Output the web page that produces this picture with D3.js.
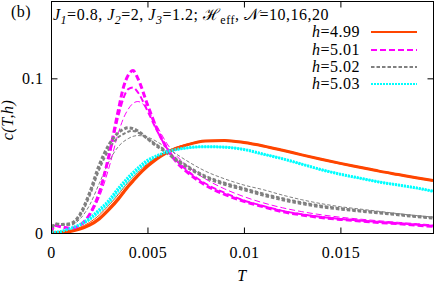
<!DOCTYPE html>
<html>
<head>
<meta charset="utf-8">
<script src="https://cdn.jsdelivr.net/npm/d3@7"></script>
<style>
  body { margin: 0; background: #fff; }
  text { font-family: "Liberation Serif", "Times New Roman", serif; letter-spacing: 0.5px; }
</style>
</head>
<body>
<svg width="436" height="284"></svg>
<script>
// temperature grid shared by all curves
var temps = [0, 0.0002, 0.0005, 0.001, 0.0015, 0.002, 0.0025, 0.003, 0.0035, 0.00375, 0.004, 0.00425, 0.0045, 0.005, 0.0055, 0.006, 0.0065, 0.007, 0.008, 0.009, 0.010, 0.011, 0.012, 0.013, 0.014, 0.015, 0.016, 0.017, 0.018, 0.019, 0.0198];

// h = 4.99
var c499_N20 = [0, 0.0001, 0.0003, 0.001, 0.0025, 0.005, 0.009, 0.015, 0.022, 0.026, 0.030, 0.0335, 0.037, 0.043, 0.048, 0.052, 0.0548, 0.0568, 0.0595, 0.0598, 0.0585, 0.0563, 0.0535, 0.0505, 0.0477, 0.045, 0.0425, 0.040, 0.0378, 0.0356, 0.034];
var c499_N16 = [0, 0.0001, 0.0004, 0.0012, 0.0028, 0.0055, 0.0097, 0.0158, 0.0228, 0.0268, 0.0307, 0.0342, 0.0376, 0.0435, 0.0484, 0.0523, 0.055, 0.0569, 0.0595, 0.0598, 0.0585, 0.0563, 0.0535, 0.0505, 0.0477, 0.045, 0.0425, 0.040, 0.0378, 0.0356, 0.034];
var c499_N10 = [0, 0.0002, 0.0006, 0.0016, 0.0036, 0.0068, 0.0115, 0.018, 0.025, 0.029, 0.0328, 0.036, 0.0392, 0.0447, 0.0492, 0.0528, 0.0553, 0.0571, 0.0594, 0.0596, 0.0583, 0.0561, 0.0534, 0.0505, 0.0477, 0.045, 0.0425, 0.040, 0.0378, 0.0356, 0.034];

// h = 5.01
var c501_N20 = [0, 0.005, 0.004, 0.003, 0.005, 0.012, 0.026, 0.050, 0.080, 0.094, 0.102, 0.105, 0.100, 0.083, 0.067, 0.055, 0.046, 0.040, 0.031, 0.025, 0.0205, 0.017, 0.0138, 0.0117, 0.010, 0.0088, 0.0078, 0.0068, 0.006, 0.005, 0.0043];
var c501_N16 = [0, 0.005, 0.0042, 0.003, 0.005, 0.012, 0.026, 0.049, 0.076, 0.087, 0.093, 0.094, 0.091, 0.079, 0.066, 0.055, 0.047, 0.041, 0.032, 0.026, 0.021, 0.0175, 0.0143, 0.0121, 0.0104, 0.0091, 0.0081, 0.0071, 0.0062, 0.0053, 0.0046];
var c501_N10 = [0, 0.005, 0.0045, 0.0035, 0.005, 0.011, 0.023, 0.042, 0.065, 0.074, 0.080, 0.0838, 0.085, 0.080, 0.069, 0.058, 0.050, 0.044, 0.035, 0.0285, 0.0235, 0.0195, 0.0163, 0.0138, 0.0118, 0.0102, 0.009, 0.0079, 0.0069, 0.006, 0.0052];

// h = 5.02
var c502_N20 = [0, 0.006, 0.0055, 0.006, 0.012, 0.026, 0.044, 0.057, 0.065, 0.067, 0.068, 0.0675, 0.066, 0.061, 0.056, 0.052, 0.047, 0.043, 0.036, 0.0315, 0.028, 0.0245, 0.0215, 0.019, 0.017, 0.0155, 0.0142, 0.013, 0.0118, 0.0105, 0.0097];
var c502_N16 = [0, 0.006, 0.0055, 0.0055, 0.011, 0.024, 0.041, 0.054, 0.062, 0.064, 0.0655, 0.066, 0.065, 0.061, 0.057, 0.053, 0.048, 0.044, 0.037, 0.0325, 0.029, 0.0255, 0.0225, 0.0198, 0.0177, 0.016, 0.0146, 0.0134, 0.0121, 0.0108, 0.0099];
var c502_N10 = [0, 0.006, 0.0055, 0.005, 0.009, 0.018, 0.032, 0.046, 0.056, 0.059, 0.061, 0.0625, 0.063, 0.062, 0.059, 0.055, 0.051, 0.047, 0.040, 0.035, 0.031, 0.028, 0.0245, 0.0215, 0.019, 0.017, 0.0155, 0.014, 0.0125, 0.0112, 0.0103];

// h = 5.03
var c503_N20 = [0, 0.0005, 0.001, 0.003, 0.0055, 0.0095, 0.015, 0.021, 0.029, 0.0325, 0.036, 0.039, 0.042, 0.047, 0.050, 0.0525, 0.054, 0.055, 0.0558, 0.0555, 0.054, 0.051, 0.048, 0.0445, 0.041, 0.038, 0.0355, 0.033, 0.031, 0.029, 0.027];
var c503_N16 = [0, 0.0004, 0.0009, 0.0027, 0.005, 0.0088, 0.014, 0.0198, 0.0275, 0.031, 0.0346, 0.0378, 0.0408, 0.0462, 0.0494, 0.0521, 0.0538, 0.0549, 0.0558, 0.0555, 0.054, 0.051, 0.048, 0.0445, 0.041, 0.038, 0.0355, 0.033, 0.031, 0.029, 0.027];
var c503_N10 = [0, 0.0003, 0.0008, 0.0024, 0.0045, 0.008, 0.0128, 0.0183, 0.0258, 0.0293, 0.033, 0.0364, 0.0395, 0.0452, 0.0488, 0.0517, 0.0536, 0.0548, 0.0557, 0.0555, 0.054, 0.051, 0.048, 0.0445, 0.041, 0.038, 0.0355, 0.033, 0.031, 0.029, 0.027];

var hLabels = ["4.99", "5.01", "5.02", "5.03"];
var xTicks = [0, 0.005, 0.01, 0.015];
var xTickLabels = ["0", "0.005", "0.01", "0.015"];
var yTicks = [0, 0.1];
var yTickLabels = ["0", "0.1"];

var colors = ["#ff4500", "#ff00ff", "#808080", "#00ffff"];
var dashes = [null, "6,3", "3.5,2", "2,1"];
var widths = [3, 2, 1]; // N=20, 16, 10

var series = [
  { h: 0, curves: [c499_N20, c499_N16, c499_N10] },
  { h: 1, curves: [c501_N20, c501_N16, c501_N10] },
  { h: 2, curves: [c502_N20, c502_N16, c502_N10] },
  { h: 3, curves: [c503_N20, c503_N16, c503_N10] }
];

var pLeft = 51, pRight = 434, pTop = 1, pBottom = 233;
var fs = 16;

var x = d3.scaleLinear().domain([0, 0.0198]).range([pLeft, pRight - 1]);
var y = d3.scaleLinear().domain([0, 0.15]).range([pBottom, pTop]);

var svg = d3.select("svg");

svg.append("clipPath").attr("id", "clip")
  .append("rect")
  .attr("x", pLeft).attr("y", pTop)
  .attr("width", pRight - pLeft).attr("height", pBottom - pTop);

var line = d3.line()
  .x(function(d) { return x(d[0]); })
  .y(function(d) { return y(d[1]); })
  .curve(d3.curveMonotoneX);

var plot = svg.append("g").attr("clip-path", "url(#clip)");

// draw thin first so thick ones end up on top
[2, 1, 0].forEach(function(k) {
  series.forEach(function(s) {
    var pts = temps.map(function(t, i) { return [t, s.curves[k][i]]; });
    plot.append("path")
      .attr("d", line(pts))
      .attr("fill", "none")
      .attr("stroke", colors[s.h])
      .attr("stroke-width", widths[k])
      .attr("stroke-dasharray", dashes[s.h]);
  });
});

// frame
svg.append("rect")
  .attr("x", pLeft + 0.5).attr("y", pTop + 0.5)
  .attr("width", pRight - pLeft - 1).attr("height", pBottom - pTop)
  .attr("fill", "none").attr("stroke", "#000").attr("stroke-width", 1);

// axes, ticks pointing inward, mirrored
var xAxisB = d3.axisBottom(x).tickValues(xTicks).tickSizeInner(-6).tickSizeOuter(0)
  .tickFormat(function(d, i) { return xTickLabels[i]; });
var gxb = svg.append("g").attr("transform", "translate(0," + (pBottom + 0.5) + ")").call(xAxisB);
var xAxisT = d3.axisTop(x).tickValues(xTicks.slice(1)).tickSizeInner(-6).tickSizeOuter(0).tickFormat("");
var gxt = svg.append("g").attr("transform", "translate(0," + (pTop + 0.5) + ")").call(xAxisT);
var yAxisL = d3.axisLeft(y).tickValues(yTicks).tickSizeInner(-6).tickSizeOuter(0)
  .tickFormat(function(d, i) { return yTickLabels[i]; });
var gyl = svg.append("g").attr("transform", "translate(" + (pLeft + 0.5) + ",0)").call(yAxisL);
var yAxisR = d3.axisRight(y).tickValues(yTicks.slice(1)).tickSizeInner(-6).tickSizeOuter(0).tickFormat("");
var gyr = svg.append("g").attr("transform", "translate(" + (pRight - 0.5) + ",0)").call(yAxisR);

[gxb, gxt, gyl, gyr].forEach(function(g) {
  g.select(".domain").remove();
  g.attr("font-family", null);
  g.selectAll("line").attr("stroke", "#000");
  g.selectAll("text").attr("font-size", fs).attr("fill", "#000");
});
gxb.selectAll("text").attr("dy", null).attr("y", 24);
gyl.selectAll("text").attr("x", -8).attr("dy", "0.35em");

// axis titles
svg.append("text").attr("x", 242).attr("y", 281).attr("text-anchor", "middle")
  .attr("font-size", fs).attr("font-style", "italic").text("T");
svg.append("text").attr("transform", "translate(13,120) rotate(-90)").attr("text-anchor", "middle")
  .attr("font-size", fs).attr("font-style", "italic").text("c(T,h)");

svg.append("text").attr("x", 11).attr("y", 17).attr("font-size", fs).text("(b)");

// parameter line
var title = svg.append("text").attr("x", 53).attr("y", 20).attr("font-size", fs);
var parts = [
  ["J", "i", 0], ["1", "i", 1], ["=0.8, ", "", 0],
  ["J", "i", 0], ["2", "i", 1], ["=2, ", "", 0],
  ["J", "i", 0], ["3", "i", 1], ["=1.2; ", "", 0],
  ["\u210B", "", 0], ["eff", "", 1], [", \uD835\uDCA9=10,16,20", "", 0]
];
var shifted = false;
parts.forEach(function(p) {
  var ts = title.append("tspan").text(p[0]);
  if (p[1] == "i") ts.attr("font-style", "italic");
  if (p[2] && !shifted) { ts.attr("dy", 4).attr("font-size", 12); shifted = true; }
  else if (!p[2] && shifted) { ts.attr("dy", -4); shifted = false; }
  else if (p[2]) ts.attr("font-size", 12);
});

// legend
var legY = [32, 50, 67, 84];
hLabels.forEach(function(lab, i) {
  var t = svg.append("text").attr("x", 360).attr("y", legY[i] + 5).attr("text-anchor", "end").attr("font-size", fs);
  t.append("tspan").attr("font-style", "italic").text("h");
  t.append("tspan").text("=" + lab);
  svg.append("line")
    .attr("x1", 371).attr("x2", 417).attr("y1", legY[i]).attr("y2", legY[i])
    .attr("stroke", colors[i]).attr("stroke-width", 2)
    .attr("stroke-dasharray", dashes[i]);
});
</script>
</body>
</html>
